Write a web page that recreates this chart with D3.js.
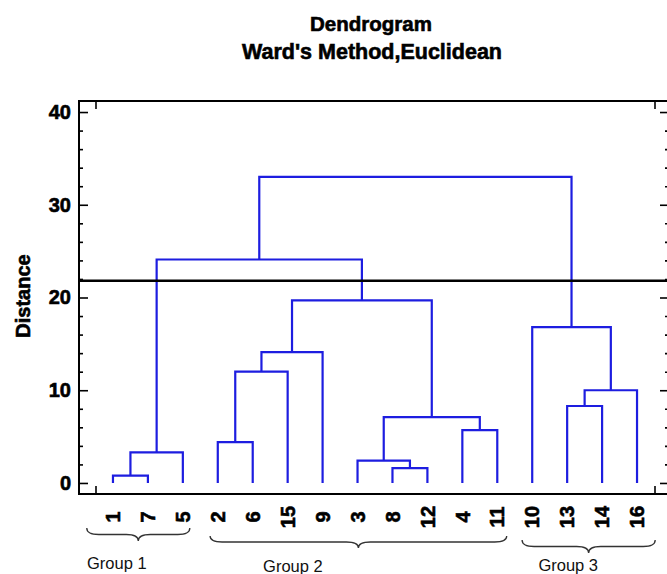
<!DOCTYPE html>
<html>
<head>
<meta charset="utf-8">
<script src="https://cdn.jsdelivr.net/npm/d3@7"></script>
<style>
  html, body { margin: 0; padding: 0; background: #fff; }
  svg { display: block; }
</style>
</head>
<body>
<svg id="chart" width="667" height="574"></svg>
<script>
// ---- data ----
const leafLabels = ["1","7","5","2","6","15","9","3","8","12","4","11","10","13","14","16"];
// linkage: indices < 16 are leaves (position in leafLabels), >= 16 are earlier merges (16 + merge number)
const mergeLeft   = [0, 16, 3, 18, 19, 8, 7, 10, 22, 20, 17, 13, 27, 12, 26];
const mergeRight  = [1, 2, 4, 5, 6, 9, 21, 11, 23, 24, 25, 14, 15, 28, 29];
const mergeHeight = [0.8, 3.3, 4.4, 12.0, 14.1, 1.6, 2.4, 5.7, 7.1, 19.7, 24.1, 8.3, 10.0, 16.8, 33.0];
const cutHeight = 21.8;
const yTicks = [0, 10, 20, 30, 40];
const yMinorTicks = [2, 4, 6, 8, 12, 14, 16, 18, 22, 24, 26, 28, 32, 34, 36, 38];
const groupNames = ["Group 1", "Group 2", "Group 3"];
const groupStart = [-0.75, 2.78, 11.71];
const groupEnd   = [2.2, 11.27, 15.52];
const groupLabelPos = [0.11, 5.15, 13.03];

// ---- layout ----
const W = 667, H = 574;
const L = 79, R = 669, T = 101, B = 494;
const svg = d3.select("#chart");
const blue = "#1d1de0";
const font = "'Liberation Sans', Arial, Helvetica, sans-serif";

const x = d3.scaleLinear().domain([-0.5, 15.5]).range([95.5, 654.5]);
const y = d3.scaleLinear().domain([-1.19, 41.19]).range([B, T]);

// node positions
const nodes = leafLabels.map((d, i) => ({ x: i, h: 0 }));
mergeHeight.forEach((h, k) => {
  const a = nodes[mergeLeft[k]], b = nodes[mergeRight[k]];
  nodes.push({ x: (a.x + b.x) / 2, h: h, a: a, b: b });
});

const gDen = svg.append("g");
nodes.slice(leafLabels.length).forEach(n => {
  const p = `M${x(n.a.x)},${y(n.a.h)} V${y(n.h)} H${x(n.b.x)} V${y(n.b.h)}`;
  gDen.append("path").attr("d", p).attr("fill", "none")
    .attr("stroke", blue).attr("stroke-width", 2.2);
});

// cut line
svg.append("line").attr("x1", L).attr("x2", W + 5)
  .attr("y1", y(cutHeight)).attr("y2", y(cutHeight))
  .attr("stroke", "#000").attr("stroke-width", 2.6);

function heavy(sel) {
  sel.attr("font-family", font).attr("font-weight", "bold").attr("fill", "#000")
    .attr("stroke", "#000").attr("stroke-width", 0.6);
}

// y axes
function styleAxis(g) {
  g.select(".domain").remove();
  g.selectAll("line").attr("stroke", "#000").attr("stroke-width", 1.6);
  g.selectAll("text").attr("font-size", 20).call(heavy);
}
svg.append("g").attr("transform", `translate(${L},0)`)
  .call(d3.axisLeft(y).tickValues(yTicks).tickSize(-9).tickPadding(8).tickFormat(d3.format("d")))
  .call(styleAxis);
svg.append("g").attr("transform", `translate(${L},0)`)
  .call(d3.axisLeft(y).tickValues(yMinorTicks).tickSize(-4).tickFormat(""))
  .call(styleAxis);
svg.append("g").attr("transform", `translate(${R},0)`)
  .call(d3.axisRight(y).tickValues(yTicks).tickSize(-9).tickFormat(""))
  .call(styleAxis);
svg.append("g").attr("transform", `translate(${R},0)`)
  .call(d3.axisRight(y).tickValues(yMinorTicks).tickSize(-4).tickFormat(""))
  .call(styleAxis);

// x frame ticks (top and bottom)
svg.append("g").attr("transform", `translate(0,${T})`)
  .call(d3.axisTop(x).tickValues([-0.5, 15.5]).tickSize(-8).tickFormat(""))
  .call(styleAxis);
svg.append("g").attr("transform", `translate(0,${B})`)
  .call(d3.axisBottom(x).tickValues([-0.5, 15.5]).tickSize(-8).tickFormat(""))
  .call(styleAxis);

// frame
svg.append("rect").attr("x", L).attr("y", T).attr("width", R - L).attr("height", B - T)
  .attr("fill", "none").attr("stroke", "#000").attr("stroke-width", 2);

// leaf labels
svg.append("g").selectAll("text").data(leafLabels).join("text")
  .attr("transform", (d, i) => `translate(${x(i)},517) rotate(-90)`)
  .attr("text-anchor", "middle").attr("dy", "0.36em")
  .attr("font-size", 20).call(heavy)
  .text(d => d);

// y title
svg.append("text").attr("transform", "translate(23,296) rotate(-90)")
  .attr("text-anchor", "middle").attr("dy", "0.36em")
  .attr("font-size", 20).call(heavy)
  .text("Distance");

// title
svg.append("text").attr("x", 371).attr("y", 31).attr("text-anchor", "middle")
  .attr("font-size", 20.5).call(heavy)
  .text("Dendrogram");
svg.append("text").attr("x", 372).attr("y", 59).attr("text-anchor", "middle")
  .attr("font-size", 21.5).call(heavy)
  .text("Ward's Method,Euclidean");

// group braces
const braceTop = [528, 536, 540];
const braceH = [13, 12, 13];
const labelY = [569, 572, 571];
function brace(x0, x1, yy, h) {
  const m = (x0 + x1) / 2, q = h / 2, r = Math.min(12, (x1 - x0) / 8);
  return `M${x0},${yy} Q${x0},${yy + q} ${x0 + r},${yy + q} L${m - r},${yy + q} Q${m},${yy + q} ${m},${yy + h}` +
         ` Q${m},${yy + q} ${m + r},${yy + q} L${x1 - r},${yy + q} Q${x1},${yy + q} ${x1},${yy}`;
}
groupNames.forEach((g, i) => {
  svg.append("path").attr("d", brace(x(groupStart[i]), x(groupEnd[i]), braceTop[i], braceH[i]))
    .attr("fill", "none").attr("stroke", "#333").attr("stroke-width", 1.3);
  svg.append("text").attr("x", x(groupLabelPos[i])).attr("y", labelY[i])
    .attr("text-anchor", "middle").attr("font-family", font).attr("font-size", 16.5)
    .attr("fill", "#111").text(g);
});
</script>
</body>
</html>
